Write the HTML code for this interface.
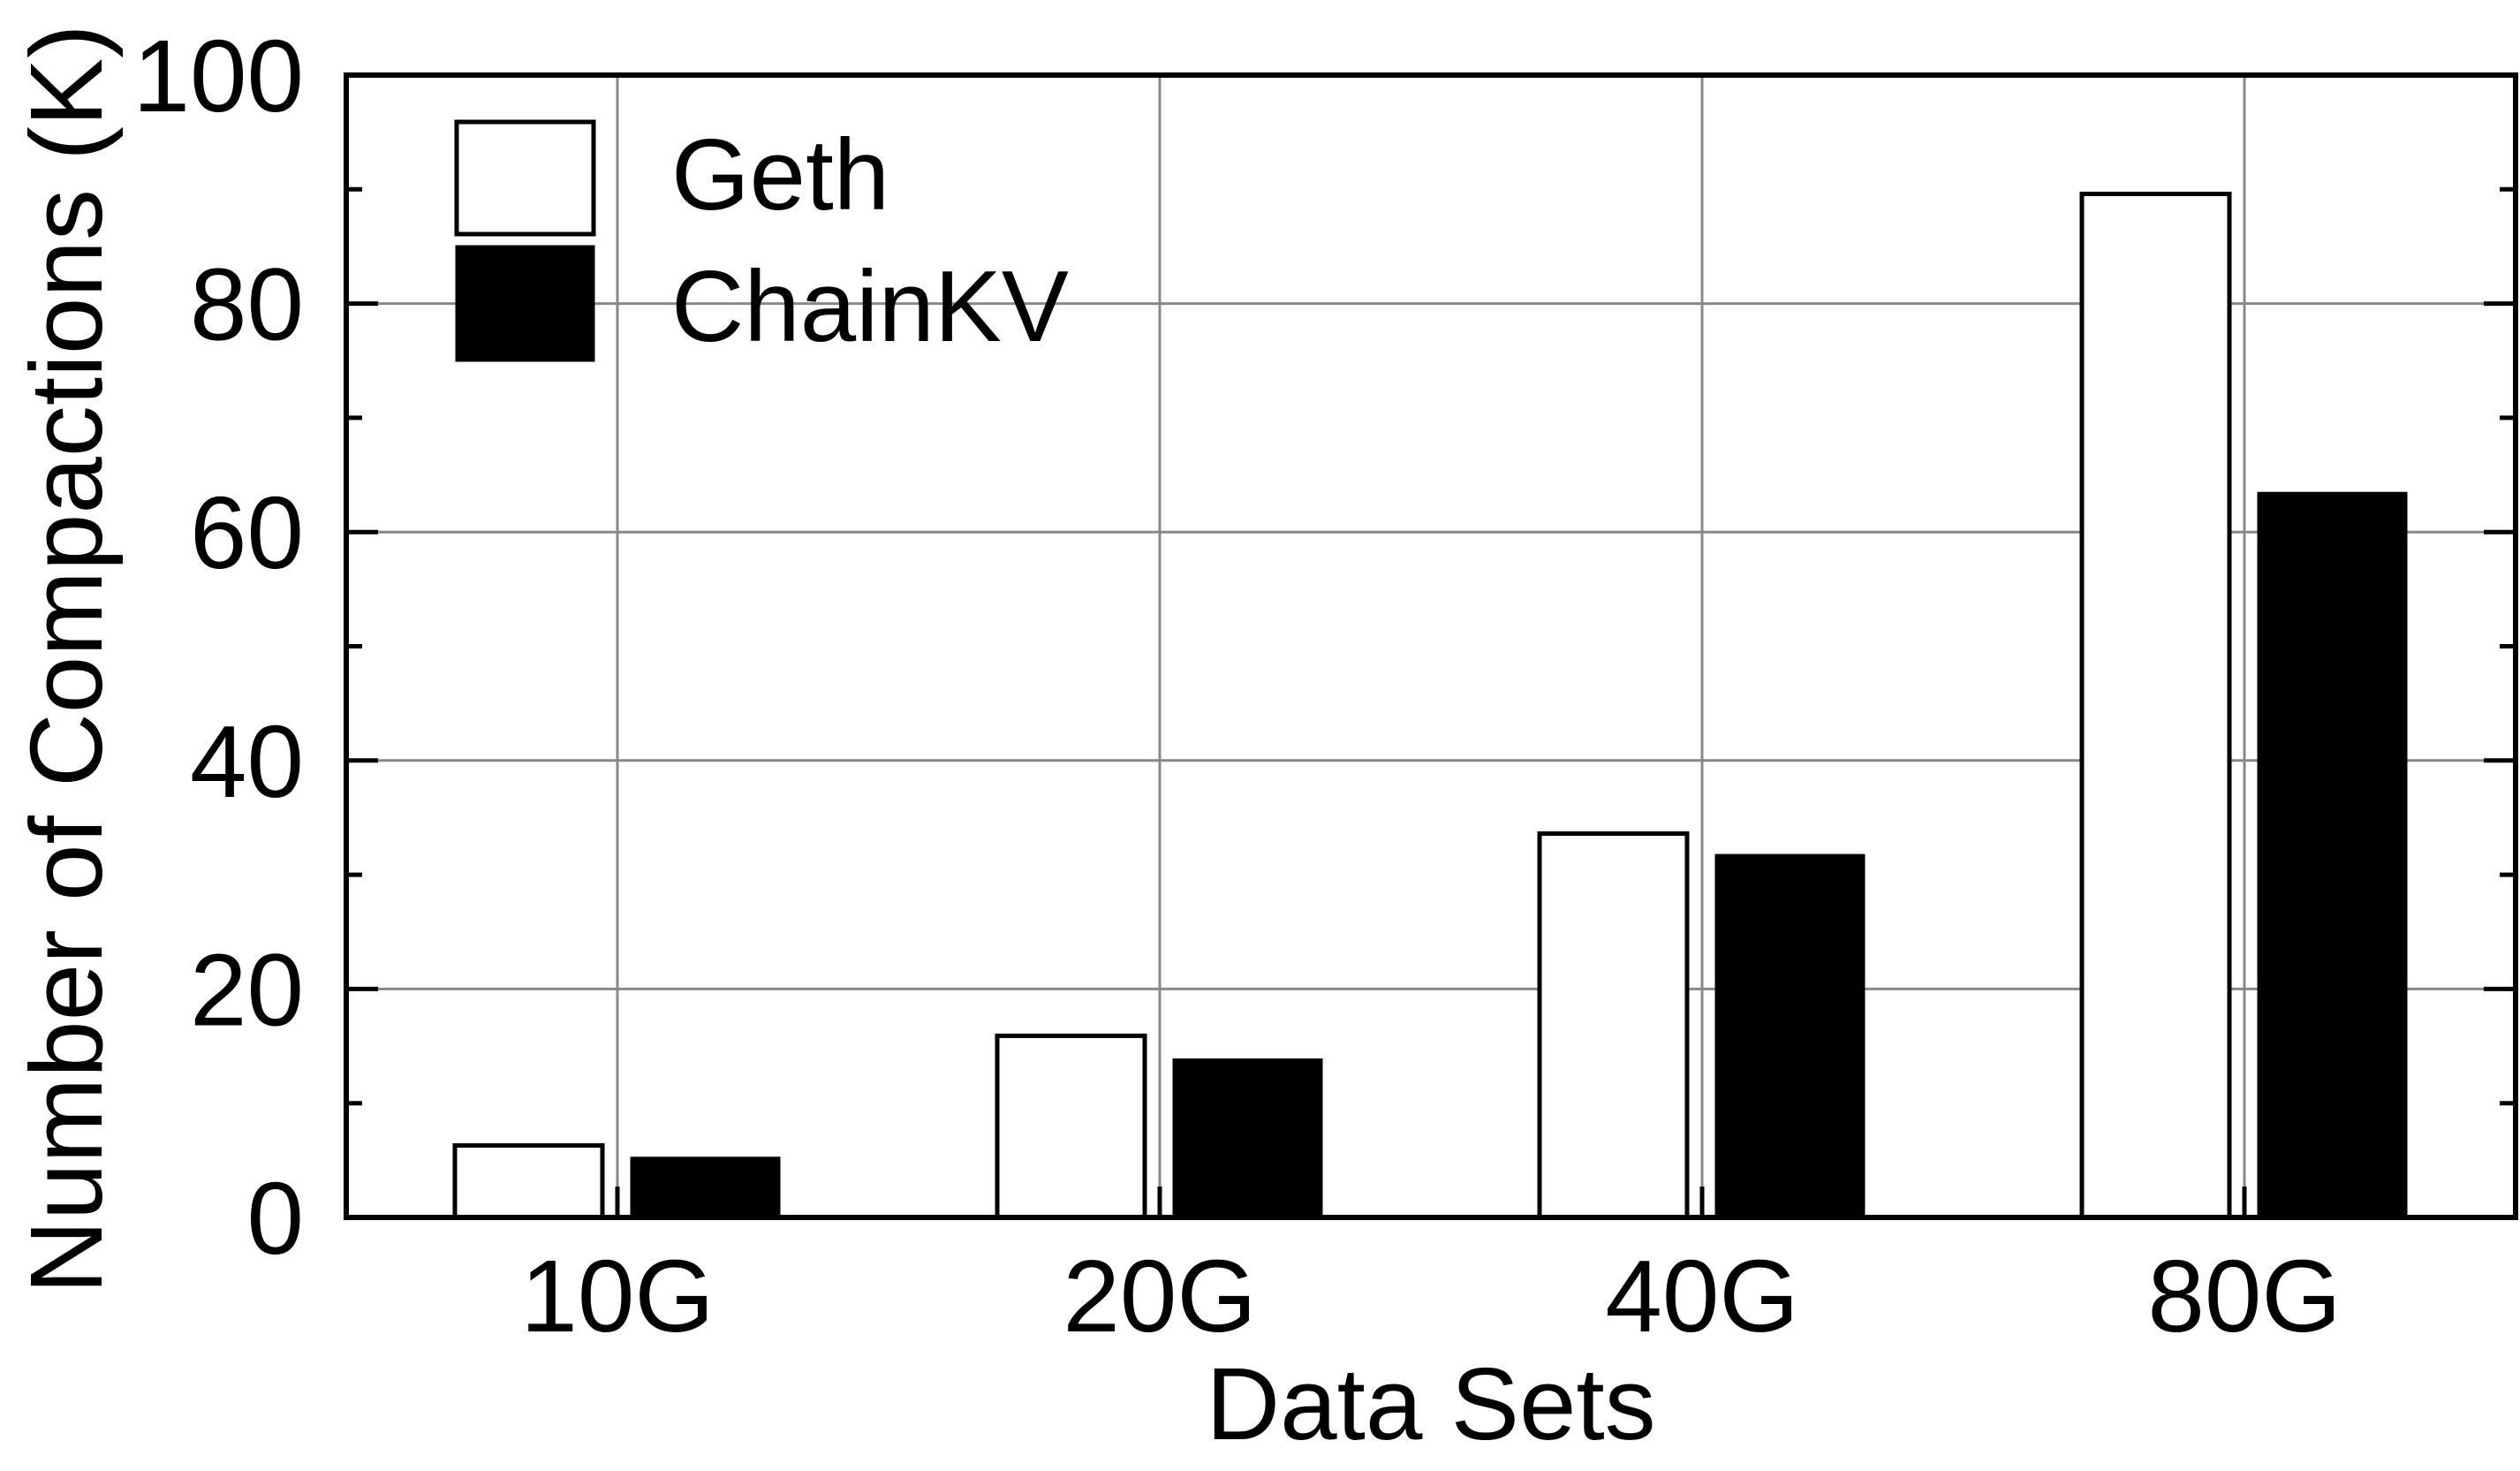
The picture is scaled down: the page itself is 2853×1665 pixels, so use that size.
<!DOCTYPE html>
<html><head><meta charset="utf-8"><style>
html,body{margin:0;padding:0;background:#fff}
svg{display:block}
text{font-family:"Liberation Sans",Arial,sans-serif;fill:#000}
</style></head><body>
<svg id="chart" width="2853" height="1665" viewBox="0 0 2853 1665" xmlns="http://www.w3.org/2000/svg">
<rect width="2853" height="1665" fill="#fff"/>
<g id="grid"></g>
<g id="bars"></g>
<g id="axes"></g>
<g id="legend">
  <rect x="517" y="138" width="155" height="127" fill="#fff" stroke="#000" stroke-width="5"/>
  <text x="760" y="237" font-size="114">Geth</text>
  <rect x="517" y="279" width="155" height="129" fill="#000" stroke="#000" stroke-width="3"/>
  <text x="760" y="386" font-size="114">ChainKV</text>
</g>
<text x="1620" y="1629" font-size="116" text-anchor="middle">Data Sets</text>
<text transform="translate(115,746) rotate(-90)" x="0" y="0" font-size="116" text-anchor="middle">Number of Compactions (K)</text>
</svg>
<script>
const categories = ["10G", "20G", "40G", "80G"];
const gethValues = [6.3, 15.9, 33.6, 89.6];
const chainkvValues = [5.2, 13.8, 31.7, 63.4];
const yTicks = [0, 20, 40, 60, 80, 100];
const yMinorTicks = [10, 30, 50, 70, 90];

const NS = "http://www.w3.org/2000/svg";
const L = 392, R = 2848, T = 85, B = 1378, YMAX = 100;
const catW = (R - L) / categories.length;
function y(v){ return B - (v / YMAX) * (B - T); }
function xc(i){ return L + catW * (i + 0.5); }
function mk(parent, tag, attrs){
  const e = document.createElementNS(NS, tag);
  for (const k in attrs) e.setAttribute(k, attrs[k]);
  parent.appendChild(e);
  return e;
}
const grid = document.getElementById("grid");
const bars = document.getElementById("bars");
const axes = document.getElementById("axes");

yTicks.forEach(function(t){
  if (t > 0 && t < YMAX) {
    const g = mk(grid, "line", {x1:L, x2:R, y1:y(t), y2:y(t), stroke:"#888", "stroke-width":3});
    
    
  }
  const tk = mk(axes, "line", {x1:L, x2:L+36, y1:y(t), y2:y(t), stroke:"#000", "stroke-width":5});
  
  
  const tk2 = mk(axes, "line", {x1:R-36, x2:R, y1:y(t), y2:y(t), stroke:"#000", "stroke-width":5});
  
  
  const lb = mk(axes, "text", {x:344, y:y(t)+41, "font-size":116, "text-anchor":"end"});
  lb.textContent = t;
  
  
});
yMinorTicks.forEach(function(t){
  const m = mk(axes, "line", {x1:L, x2:L+18, y1:y(t), y2:y(t), stroke:"#000", "stroke-width":5});
  
  
  const m2 = mk(axes, "line", {x1:R-18, x2:R, y1:y(t), y2:y(t), stroke:"#000", "stroke-width":5});
  
  
});
categories.forEach(function(c, i){
  const cx = xc(i);
  const g = mk(grid, "line", {x1:cx, x2:cx, y1:T, y2:B, stroke:"#888", "stroke-width":3});
  
  
  const b1 = mk(bars, "rect", {x:cx-184, y:y(gethValues[i]), width:167, height:B-y(gethValues[i]), fill:"#fff", stroke:"#000", "stroke-width":5});
  
  
  const b2 = mk(bars, "rect", {x:cx+16, y:y(chainkvValues[i]), width:167, height:B-y(chainkvValues[i]), fill:"#000", stroke:"#000", "stroke-width":3});
  
  
  const tk = mk(axes, "line", {x1:cx, x2:cx, y1:B-35, y2:B, stroke:"#000", "stroke-width":5});
  
  
  const lb = mk(axes, "text", {x:cx, y:1507, "font-size":116, "text-anchor":"middle"});
  lb.textContent = c;
  
  
});
const frame = mk(axes, "rect", {x:L, y:T, width:R-L, height:B-T, fill:"none", stroke:"#000", "stroke-width":6});


</script>
</body></html>
